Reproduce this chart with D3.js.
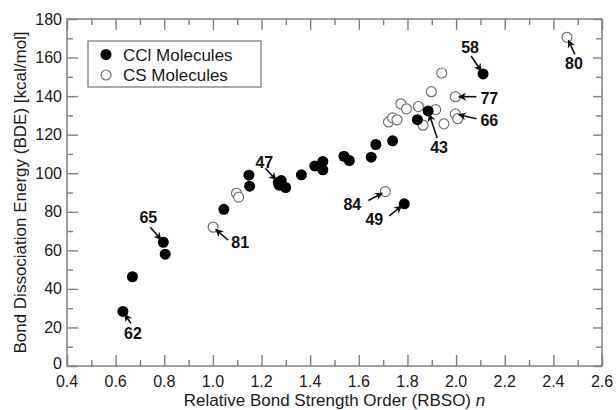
<!DOCTYPE html>
<html>
<head>
<meta charset="utf-8">
<script src="https://cdn.jsdelivr.net/npm/d3@7"></script>
<style>
  html, body { margin: 0; padding: 0; background: #fff; }
  svg { display: block; font-family: "Liberation Sans", Arial, Helvetica, sans-serif; }
</style>
</head>
<body>
<svg id="chart" width="616" height="410"></svg>
<script>
// CCl molecules: relative bond strength order n vs. BDE (kcal/mol)
const cclN   = [0.630, 0.669, 0.796, 0.804, 1.045, 1.148, 1.151, 1.269, 1.281, 1.272, 1.299,
                1.364, 1.419, 1.452, 1.452, 1.539, 1.561, 1.651, 1.670, 1.739, 1.787, 1.841,
                1.885, 2.111];
const cclBDE = [28.3, 46.3, 64.2, 58.0, 81.3, 99.0, 93.3, 95.3, 96.2, 93.8, 92.6,
                99.2, 103.8, 106.1, 101.8, 108.8, 106.6, 108.3, 114.9, 116.8, 84.1, 127.8,
                132.3, 151.5];
const cclIds = ["62", "", "65", "", "", "", "", "47", "", "", "",
                "", "", "", "", "", "", "", "", "", "49", "",
                "43", "58"];

// CS molecules
const csN    = [1.001, 1.097, 1.106, 1.709, 1.722, 1.739, 1.757, 1.773, 1.796, 1.845,
                1.864, 1.898, 1.916, 1.941, 1.950, 1.997, 1.997, 2.007, 2.456];
const csBDE  = [72.0, 89.6, 87.6, 90.5, 126.6, 128.7, 127.7, 136.0, 133.4, 134.6,
                124.9, 142.3, 133.0, 152.0, 125.6, 139.7, 130.8, 128.3, 170.5];
const csIds  = ["81", "", "", "84", "", "", "", "", "", "",
                "", "", "", "", "", "77", "66", "", "80"];

const xTicks = [0.4, 0.6, 0.8, 1.0, 1.2, 1.4, 1.6, 1.8, 2.0, 2.2, 2.4, 2.6];
const yTicks = [0, 20, 40, 60, 80, 100, 120, 140, 160, 180];
const seriesNames = ["CCl Molecules", "CS Molecules"];

// Callout placement (pixels, relative to the marked point): label centre and arrow tail
const calloutLayout = {
  "62": { lx: 10,  ly: 22,  tx: 8,   ty: 12 },
  "65": { lx: -15, ly: -25, tx: -13, ty: -15 },
  "81": { lx: 27,  ly: 15,  tx: 15,  ty: 13 },
  "47": { lx: -14, ly: -20, tx: -13, ty: -14 },
  "84": { lx: -33, ly: 12,  tx: -17, ty: 9 },
  "49": { lx: -30, ly: 15,  tx: -15, ty: 12 },
  "43": { lx: 11,  ly: 36,  tx: 9,   ty: 27 },
  "58": { lx: -13, ly: -27, tx: -12, ty: -18 },
  "77": { lx: 34,  ly: 1,   tx: 21,  ty: 0 },
  "66": { lx: 34,  ly: 6,   tx: 21,  ty: 5 },
  "80": { lx: 7,   ly: 26,  tx: 8,   ty: 17 }
};

const svg = d3.select("#chart");
const plotL = 67, plotR = 602, plotT = 19, plotB = 366;
const x = d3.scaleLinear().domain([0.4, 2.6]).range([plotL, plotR]);
const y = d3.scaleLinear().domain([0, 180]).range([plotB, plotT]);

const frameColor = "#808080";
const textColor = "#1a1a1a";

// Arrowhead marker
svg.append("defs").append("marker")
  .attr("id", "arrow")
  .attr("viewBox", "0 0 10 10")
  .attr("refX", 9).attr("refY", 5)
  .attr("markerWidth", 8).attr("markerHeight", 8)
  .attr("markerUnits", "userSpaceOnUse")
  .attr("orient", "auto")
  .append("path")
  .attr("d", "M0,0 L10,5 L0,10 L3,5 Z")
  .attr("fill", "#111");

// Minor ticks (no labels)
const xMinor = d3.range(0.5, 2.6, 0.2);
const yMinor = d3.range(10, 180, 20);

function tickAxis(axisFn, scale, values, size) {
  return axisFn(scale).tickValues(values).tickSize(size).tickFormat("");
}

// Inward ticks on all four sides
svg.append("g").attr("transform", `translate(0,${plotB})`).call(tickAxis(d3.axisTop, x, xTicks, 11));
svg.append("g").attr("transform", `translate(0,${plotB})`).call(tickAxis(d3.axisTop, x, xMinor, 6));
svg.append("g").attr("transform", `translate(0,${plotT})`).call(tickAxis(d3.axisBottom, x, xTicks, 11));
svg.append("g").attr("transform", `translate(0,${plotT})`).call(tickAxis(d3.axisBottom, x, xMinor, 6));
svg.append("g").attr("transform", `translate(${plotL},0)`).call(tickAxis(d3.axisRight, y, yTicks, 11));
svg.append("g").attr("transform", `translate(${plotL},0)`).call(tickAxis(d3.axisRight, y, yMinor, 6));
svg.append("g").attr("transform", `translate(${plotR},0)`).call(tickAxis(d3.axisLeft, y, yTicks, 9));
svg.append("g").attr("transform", `translate(${plotR},0)`).call(tickAxis(d3.axisLeft, y, yMinor, 6));

svg.selectAll("g .domain").remove();
svg.selectAll("g .tick line").attr("stroke", frameColor).attr("stroke-width", 1.4);

// Tick labels ("0" sits a touch higher so it clears the 0.4 label)
const fmt = d3.format(".1f");
svg.append("g").selectAll("text").data(xTicks).join("text")
  .attr("x", d => x(d)).attr("y", plotB + 21)
  .attr("text-anchor", "middle")
  .attr("font-size", 16).attr("fill", textColor)
  .text(d => fmt(d));
svg.append("g").selectAll("text").data(yTicks).join("text")
  .attr("x", plotL - 5).attr("y", d => y(d) + (d === 0 ? 3 : 5.5))
  .attr("text-anchor", "end")
  .attr("font-size", 16).attr("fill", textColor)
  .text(d => d);

// Frame
svg.append("rect")
  .attr("x", plotL).attr("y", plotT)
  .attr("width", plotR - plotL).attr("height", plotB - plotT)
  .attr("fill", "none").attr("stroke", frameColor).attr("stroke-width", 1.5);

// Axis titles
const xTitle = svg.append("text")
  .attr("x", (plotL + plotR) / 2).attr("y", 406)
  .attr("text-anchor", "middle").attr("font-size", 17).attr("fill", textColor);
xTitle.append("tspan").text("Relative Bond Strength Order (RBSO) ");
xTitle.append("tspan").attr("font-style", "italic").text("n");

svg.append("text")
  .attr("transform", `translate(26,${(plotT + plotB) / 2}) rotate(-90)`)
  .attr("text-anchor", "middle").attr("font-size", 17).attr("fill", textColor)
  .text("Bond Dissociation Energy (BDE) [kcal/mol]");

// Points
const ccl = cclN.map((n, i) => ({ n, bde: cclBDE[i], id: cclIds[i] }));
const cs = csN.map((n, i) => ({ n, bde: csBDE[i], id: csIds[i] }));

svg.append("g").selectAll("circle").data(cs).join("circle")
  .attr("cx", d => x(d.n)).attr("cy", d => y(d.bde)).attr("r", 5)
  .attr("fill", "#fff").attr("stroke", "#707070").attr("stroke-width", 1.2);

svg.append("g").selectAll("circle").data(ccl).join("circle")
  .attr("cx", d => x(d.n)).attr("cy", d => y(d.bde)).attr("r", 5.5)
  .attr("fill", "#000");

// Callouts: bold id label with an arrow pointing at its point
const labelled = ccl.concat(cs).filter(d => d.id !== "");
const gCall = svg.append("g");
labelled.forEach(d => {
  const L = calloutLayout[d.id];
  const px = x(d.n), py = y(d.bde);
  const ang = Math.atan2(L.ty, L.tx);
  const tipX = px + 3.5 * Math.cos(ang), tipY = py + 3.5 * Math.sin(ang);
  gCall.append("line")
    .attr("x1", px + L.tx).attr("y1", py + L.ty)
    .attr("x2", tipX).attr("y2", tipY)
    .attr("stroke", "#111").attr("stroke-width", 1.6)
    .attr("marker-end", "url(#arrow)");
  gCall.append("text")
    .attr("x", px + L.lx).attr("y", py + L.ly + 6)
    .attr("text-anchor", "middle")
    .attr("font-size", 16).attr("font-weight", "bold").attr("fill", "#111")
    .text(d.id);
});

// Legend
const legend = svg.append("g");
legend.append("rect")
  .attr("x", 88).attr("y", 41).attr("width", 173).attr("height", 46)
  .attr("fill", "#fff").attr("stroke", "#555").attr("stroke-width", 1);
legend.append("circle").attr("cx", 106).attr("cy", 54.5).attr("r", 5.5).attr("fill", "#000");
legend.append("circle").attr("cx", 106).attr("cy", 75).attr("r", 5)
  .attr("fill", "#fff").attr("stroke", "#707070").attr("stroke-width", 1.2);
legend.selectAll("text.lbl").data(seriesNames).join("text")
  .attr("class", "lbl")
  .attr("x", 123).attr("y", (d, i) => 60.5 + i * 20.5)
  .attr("font-size", 17).attr("fill", textColor)
  .text(d => d);
</script>
</body>
</html>
